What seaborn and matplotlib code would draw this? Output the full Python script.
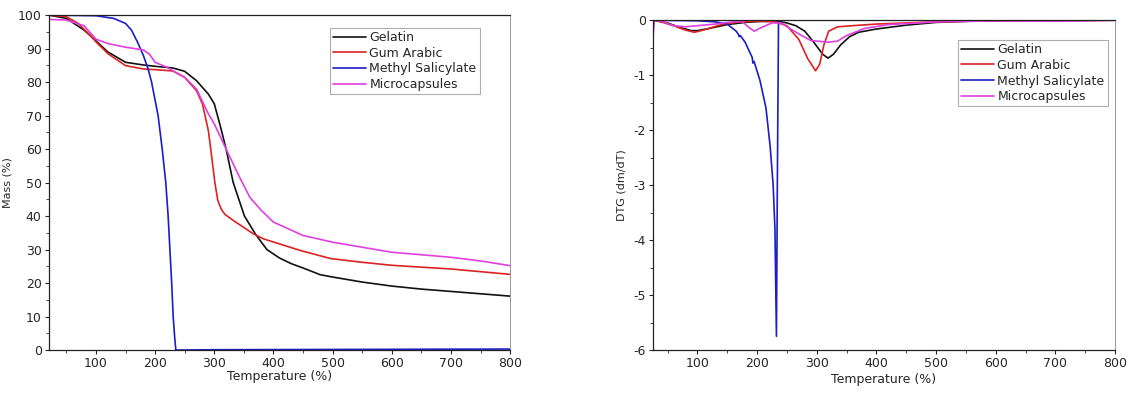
import matplotlib
matplotlib.use("Agg")
import matplotlib.pyplot as plt
from matplotlib.ticker import MultipleLocator
import numpy as np
import pandas as pd
import seaborn as sns

sns.set_style("ticks")
plt.rcParams['font.family'] = ['DejaVu Sans']
plt.rcParams['axes.unicode_minus'] = False

# ---- TGA (mass %) ----
gel_t = [20, 50, 80, 100, 120, 150, 180, 200, 230, 250, 270, 290, 300, 310, 320, 332, 351, 370, 389, 410, 430, 450, 479, 500, 550, 600, 650, 700, 750, 800]
gel_m = [100, 99, 95.5, 92.3, 89, 85.9, 85.1, 84.7, 84.2, 83.2, 80.4, 76.4, 73.5, 67, 60, 50, 40, 34.5, 30, 27.5, 25.8, 24.5, 22.5, 21.8, 20.3, 19.1, 18.2, 17.5, 16.8, 16.1]
gum_t = [20, 50, 70, 90, 100, 120, 150, 180, 200, 230, 250, 270, 280, 290, 294, 301, 306, 312, 318, 332, 366, 383, 446, 497, 550, 600, 700, 800]
gum_m = [100, 99.5, 97.5, 94, 92, 88.5, 84.9, 83.9, 83.7, 83.3, 81.4, 77.4, 73.5, 65.5, 60, 50, 44.6, 42, 40.5, 38.7, 34.7, 33.2, 29.7, 27.3, 26.2, 25.3, 24.2, 22.6]
ms_t = [20, 100, 130, 150, 160, 170, 180, 188, 194, 205, 212, 218, 222, 225, 228, 230.5, 233, 235, 300, 800]
ms_m = [100, 99.8, 99, 97.5, 95.5, 92, 88, 84, 80, 70, 60, 50, 40, 30, 20, 10, 4, 0, 0.1, 0.3]
mc_t = [20, 50, 80, 100, 120, 150, 180, 190, 200, 220, 250, 270, 290, 300, 320, 340, 360, 380, 400, 450, 500, 600, 700, 750, 800]
mc_m = [98.7, 98.5, 96.8, 92.8, 91.5, 90.4, 89.6, 88.4, 85.9, 84.4, 81.4, 77.9, 70.5, 67.5, 60, 52.6, 45.6, 41.6, 38.2, 34.2, 32.2, 29.2, 27.7, 26.6, 25.2]

# ---- DTG ----
gel_dt = [25, 50, 70, 90, 100, 120, 150, 180, 210, 235, 250, 265, 280, 295, 310, 319, 328, 340, 355, 370, 400, 450, 500, 550, 600, 800]
gel_dv = [0, -0.05, -0.13, -0.19, -0.19, -0.15, -0.08, -0.04, -0.02, -0.02, -0.05, -0.1, -0.2, -0.4, -0.62, -0.69, -0.62, -0.45, -0.3, -0.22, -0.16, -0.09, -0.04, -0.02, -0.01, 0]
gum_dt = [25, 30, 60, 80, 95, 110, 140, 170, 200, 230, 250, 270, 285, 298, 305, 312, 320, 335, 360, 400, 450, 500, 600, 800]
gum_dv = [0, 0, -0.1, -0.18, -0.22, -0.18, -0.08, -0.03, -0.02, -0.03, -0.1, -0.35, -0.7, -0.92, -0.8, -0.45, -0.2, -0.12, -0.1, -0.07, -0.05, -0.03, -0.01, 0]
ms_dt = [25, 100, 130, 150, 165, 169, 170, 172, 180, 192, 193, 195, 205, 215, 222, 227, 230, 232.5, 234, 236, 300, 800]
ms_dv = [0, -0.01, -0.03, -0.07, -0.2, -0.26, -0.3, -0.28, -0.4, -0.68, -0.78, -0.75, -1.1, -1.6, -2.3, -3.0, -3.8, -5.75, -3.0, 0, 0, 0]
mc_dt = [25, 28, 40, 60, 80, 100, 130, 160, 175, 185, 195, 210, 225, 240, 270, 290, 320, 335, 350, 380, 420, 500, 600, 700, 800]
mc_dv = [-0.4, 0, -0.02, -0.1, -0.12, -0.1, -0.07, -0.03, -0.02, -0.12, -0.2, -0.12, -0.05, -0.05, -0.25, -0.37, -0.4, -0.38, -0.28, -0.15, -0.08, -0.03, -0.01, -0.02, 0]

names = ["Gelatin", "Gum Arabic", "Methyl Salicylate", "Microcapsules"]
palette = {"Gelatin": "#111111", "Gum Arabic": "#dd2222", "Methyl Salicylate": "#1c1cc8", "Microcapsules": "#e040e0"}

def long_form(pairs):
    frames = []
    for name, (t, v) in zip(names, pairs):
        frames.append(pd.DataFrame({"T": t, "v": v, "sample": name}))
    return pd.concat(frames, ignore_index=True)

tga = long_form([(gel_t, gel_m), (gum_t, gum_m), (ms_t, ms_m), (mc_t, mc_m)])
dtg = long_form([(gel_dt, gel_dv), (gum_dt, gum_dv), (ms_dt, ms_dv), (mc_dt, mc_dv)])

fig = plt.figure(figsize=(11.31, 3.96), dpi=100)
ax1 = fig.add_axes([0.043, 0.116, 0.408, 0.846])
ax2 = fig.add_axes([0.577, 0.116, 0.409, 0.833])

sns.lineplot(data=tga, x="T", y="v", hue="sample", palette=palette, estimator=None,
             sort=False, linewidth=1.2, ax=ax1)
sns.lineplot(data=dtg, x="T", y="v", hue="sample", palette=palette, estimator=None,
             sort=False, linewidth=1.2, ax=ax2)

ax1.set_xlim(20, 800)
ax1.set_ylim(0, 100)
ax1.xaxis.set_major_locator(MultipleLocator(100))
ax1.xaxis.set_minor_locator(MultipleLocator(50))
ax1.yaxis.set_major_locator(MultipleLocator(10))
ax1.yaxis.set_minor_locator(MultipleLocator(5))
ax1.set_xlabel("Temperature (%)", fontsize=9, labelpad=0)
ax1.set_ylabel("Mass (%)", fontsize=8, labelpad=4)

ax2.set_xlim(25, 800)
ax2.set_ylim(-6, 0)
ax2.xaxis.set_major_locator(MultipleLocator(100))
ax2.xaxis.set_minor_locator(MultipleLocator(50))
ax2.yaxis.set_major_locator(MultipleLocator(1))
ax2.yaxis.set_minor_locator(MultipleLocator(0.5))
ax2.set_xlabel("Temperature (%)", fontsize=9, labelpad=2)
ax2.set_ylabel("DTG (dm/dT)", fontsize=8, labelpad=5)

for ax in (ax1, ax2):
    ax.tick_params(which="major", length=3, width=0.8, labelsize=9, pad=2)
    ax.tick_params(which="minor", length=2, width=0.6)
    for sp in ax.spines.values():
        sp.set_linewidth(0.9)
        sp.set_color("#222222")
    ax.spines["right"].set_color("#888888")
    ax.spines["right"].set_linewidth(0.6)

leg_kw = dict(loc="upper left", fontsize=9, frameon=True, fancybox=False,
              edgecolor="#999999", borderpad=0.25, handlelength=2.6,
              labelspacing=0.22, handletextpad=0.3, borderaxespad=0)
leg1 = ax1.legend(bbox_to_anchor=(0.61, 0.962), **leg_kw)
leg2 = ax2.legend(bbox_to_anchor=(0.66, 0.94), **leg_kw)
for leg in (leg1, leg2):
    leg.get_frame().set_linewidth(0.8)
    leg.set_title(None)

fig.savefig("out.png", dpi=100)
